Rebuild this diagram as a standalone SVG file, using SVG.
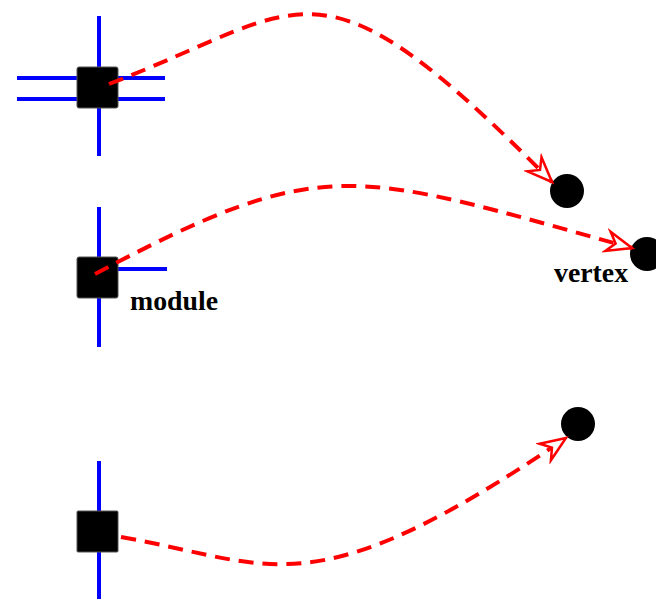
<svg xmlns="http://www.w3.org/2000/svg" width="656" height="599" viewBox="0 0 656 599">
<style>
.wire{stroke:#0000ff;stroke-width:4;fill:none}
.mod{fill:#000;stroke:#555;stroke-width:1}
.vert{fill:#000}
.edge{stroke:#ff0000;stroke-width:4;fill:none;stroke-dasharray:15 9}
.lbl{font-family:"Liberation Serif","Times New Roman",serif;font-weight:bold;font-size:27.8px;fill:#000}
</style>
<defs>
<marker id="arr" markerUnits="userSpaceOnUse" viewBox="-28 -13 32 26" refX="0" refY="0" markerWidth="32" markerHeight="26" orient="auto">
<path d="M0,0 L-25,-10 L-17,0 L-25,10 Z" fill="#fff" stroke="#ff0000" stroke-width="2.5" stroke-linejoin="miter"/>
</marker>
</defs>
<g id="module1">
<line class="wire" x1="99" y1="16" x2="99" y2="156"/>
<line class="wire" x1="17" y1="78" x2="165" y2="78"/>
<line class="wire" x1="17" y1="99" x2="165" y2="99"/>
<rect class="mod" x="77" y="67" width="41" height="41" rx="2"/>
</g>
<g id="module2">
<line class="wire" x1="99" y1="207" x2="99" y2="347"/>
<line class="wire" x1="118" y1="269" x2="167" y2="269"/>
<rect class="mod" x="77" y="257" width="41" height="41" rx="2"/>
<text class="lbl" x="130" y="310">module</text>
</g>
<g id="module3">
<line class="wire" x1="99" y1="461" x2="99" y2="599"/>
<rect class="mod" x="77" y="511" width="41" height="41" rx="1"/>
</g>
<g id="vertex1"><circle class="vert" cx="567" cy="191" r="17"/></g>
<g id="vertex2"><circle class="vert" cx="647" cy="254" r="17"/>
<text class="lbl" x="554" y="282">vertex</text></g>
<g id="vertex3"><circle class="vert" cx="578" cy="424" r="17"/></g>
<g id="connectors">
<path class="edge" marker-end="url(#arr)" d="M109,84 C310,7 315,-57 552,182"/>
<path class="edge" marker-end="url(#arr)" d="M95,274 C325,152 351,170 632,248"/>
<path class="edge" marker-end="url(#arr)" d="M121,537 C274,564 310,612 566,438"/>
</g>
</svg>
